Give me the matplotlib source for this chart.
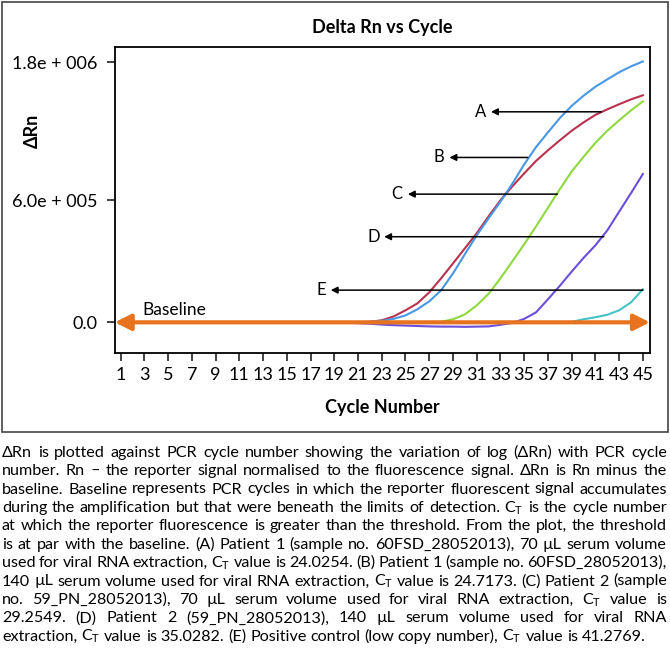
import matplotlib
matplotlib.use("Agg")
from matplotlib import pyplot as plt
from matplotlib.patches import Rectangle
import numpy as np

plt.rcParams['font.family'] = ['Lato', 'DejaVu Sans']
plt.rcParams['mathtext.fontset'] = 'custom'
plt.rcParams['mathtext.rm'] = 'Lato'

# cycle numbers and delta Rn (in thousands, arbitrary units of the drawing)
cycles = list(range(1, 46))
zeros20 = [0] * 20
blue_vals = zeros20 + [0, 2.5, 7, 17, 34, 64, 103, 157, 240, 334, 427, 510, 592, 680,
                       775, 860, 932, 1002, 1062, 1112, 1156, 1192, 1227, 1256, 1280]
red_vals = zeros20 + [0, 2.5, 10, 29, 59, 93, 147, 216, 289, 363, 437, 520, 599, 667,
                      731, 792, 844, 893, 940, 981, 1018, 1045, 1070, 1094, 1114]
green_vals = [0] * 27 + [2.5, 15, 39, 83, 140, 216, 299, 383, 471, 562, 653, 740, 812,
                         881, 940, 991, 1040, 1084]
purple_vals = [0] * 19 + [-1, -4, -7, -11, -14, -16, -18, -20, -21, -21, -22, -21, -20,
                          -12, -3, 17, 49, 113, 179, 249, 316, 378, 451, 543, 634, 728]
teal_vals = [0] * 38 + [2.5, 15, 25, 37, 59, 98, 162]

series = [(red_vals, '#B8324E'), (blue_vals, '#4A97E4'), (green_vals, '#8ED93E'),
          (purple_vals, '#6B4FDB'), (teal_vals, '#45C2C5')]

# arrow labels: letter, y, tail cycle, head cycle, text cycle
labels = ['A', 'B', 'C', 'D', 'E']
label_y = [1033, 809, 629, 420, 158]
label_tail = [41.5, 35.3, 37.8, 41.7, 45.0]
label_head = [32.2, 28.7, 25.2, 23.2, 18.7]
label_text = [31.3, 27.8, 24.3, 22.3, 17.9]

ytick_pos = [0, 600, 1277]
ytick_labels = ['0.0', '6.0e + 005', '1.8e + 006']
xticks = list(range(1, 46, 2))

caption = [
    "ΔRn is plotted against PCR cycle number showing the variation of log (ΔRn) with PCR cycle",
    "number. Rn – the reporter signal normalised to the fluorescence signal. ΔRn is Rn minus the",
    "baseline. Baseline represents PCR cycles in which the reporter fluorescent signal accumulates",
    "during the amplification but that were beneath the limits of detection. C$_\\mathrm{T}$ is the cycle number",
    "at which the reporter fluorescence is greater than the threshold. From the plot, the threshold",
    "is at par with the baseline. (A) Patient 1 (sample no. 60FSD_28052013), 70 µL serum volume",
    "used for viral RNA extraction, C$_\\mathrm{T}$ value is 24.0254. (B) Patient 1 (sample no. 60FSD_28052013),",
    "140 µL serum volume used for viral RNA extraction, C$_\\mathrm{T}$ value is 24.7173. (C) Patient 2 (sample",
    "no. 59_PN_28052013), 70 µL serum volume used for viral RNA extraction, C$_\\mathrm{T}$ value is",
    "29.2549. (D) Patient 2 (59_PN_28052013), 140 µL serum volume used for viral RNA",
    "extraction, C$_\\mathrm{T}$ value is 35.0282. (E) Positive control (low copy number), C$_\\mathrm{T}$ value is 41.2769.",
]

W, H = 670, 657
fig = plt.figure(figsize=(W / 100, H / 100), dpi=100)

# outer frame around the chart
fig.patches.append(Rectangle((1.5 / W, 1 - 432 / H), 666 / W, 430.5 / H, transform=fig.transFigure,
                             fill=False, edgecolor='#444444', linewidth=1.2))

ax = fig.add_axes([114.7 / W, 1 - 352.7 / H, (650 - 114.7) / W, (352.7 - 47) / H])
for vals, col in series:
    ax.plot(cycles, np.array(vals, dtype=float), color=col, lw=1.5, zorder=2)

ax.set_xlim(0.5, 45.6)
ax.set_ylim(-149, 1351)
ax.set_xticks(xticks)
ax.set_xticklabels([str(x) for x in xticks])
ax.set_yticks(ytick_pos)
ax.set_yticklabels(ytick_labels)
ax.tick_params(axis='both', direction='out', length=5.5, width=1.2, labelsize=13, color='#222222')
ax.tick_params(axis='y', pad=7)
ax.tick_params(axis='x', pad=5)
for s in ax.spines.values():
    s.set_linewidth(1.3)

# baseline double arrow
ax.annotate('', xy=(45.6, 0), xytext=(0.5, 0),
            arrowprops=dict(arrowstyle='<|-|>', color='#E8731E', lw=3, mutation_scale=24,
                            shrinkA=0, shrinkB=0), zorder=3)
ax.text(2.86, 60, 'Baseline', fontsize=12.5, ha='left', va='center')

for lab, y, t0, h0, tx in zip(labels, label_y, label_tail, label_head, label_text):
    ax.annotate('', xy=(h0, y), xytext=(t0, y),
                arrowprops=dict(arrowstyle='-|>', color='black', lw=1.1, mutation_scale=10,
                                shrinkA=0, shrinkB=0), zorder=4)
    ax.text(tx, y, lab, fontsize=12, ha='center', va='center')

fig.text(382.5 / W, 1 - 27 / H, 'Delta Rn vs Cycle', fontsize=13, fontweight='bold',
         ha='center', va='center')
fig.text(382.5 / W, 1 - 407 / H, 'Cycle Number', fontsize=13, fontweight='bold',
         ha='center', va='center')
fig.text(32 / W, 1 - 131 / H, 'ΔRn', fontsize=13, fontweight='bold', rotation=90,
         ha='center', va='center')

# justified caption, placed word by word; font size chosen so every line fits
renderer = fig.canvas.get_renderer()
x0, x1 = 2.0, 667.0


def word_widths(words, size):
    out = []
    for w in words:
        t = fig.text(0, 0, w, fontsize=size)
        out.append(t.get_window_extent(renderer).width)
        t.remove()
    return out


size = 12.6
while size > 9:
    ok = True
    for line in caption[:-1]:
        words = line.split(' ')
        ws = word_widths(words, size)
        gap = (x1 - x0 - sum(ws)) / (len(words) - 1)
        if gap < size * 100 / 72 * 0.2:
            ok = False
            break
    if ok:
        break
    size -= 0.2

for i, line in enumerate(caption):
    words = line.split(' ')
    ybase = 1 - (456.7 + 18.4 * i) / H
    ws = word_widths(words, size)
    if i == len(caption) - 1:
        gap = size * 100 / 72 * 0.24
    else:
        gap = (x1 - x0 - sum(ws)) / (len(words) - 1)
    x = x0
    for w, wd in zip(words, ws):
        fig.text(x / W, ybase, w, fontsize=size, ha='left', va='baseline')
        x += wd + gap

fig.savefig('out.png', dpi=100)
